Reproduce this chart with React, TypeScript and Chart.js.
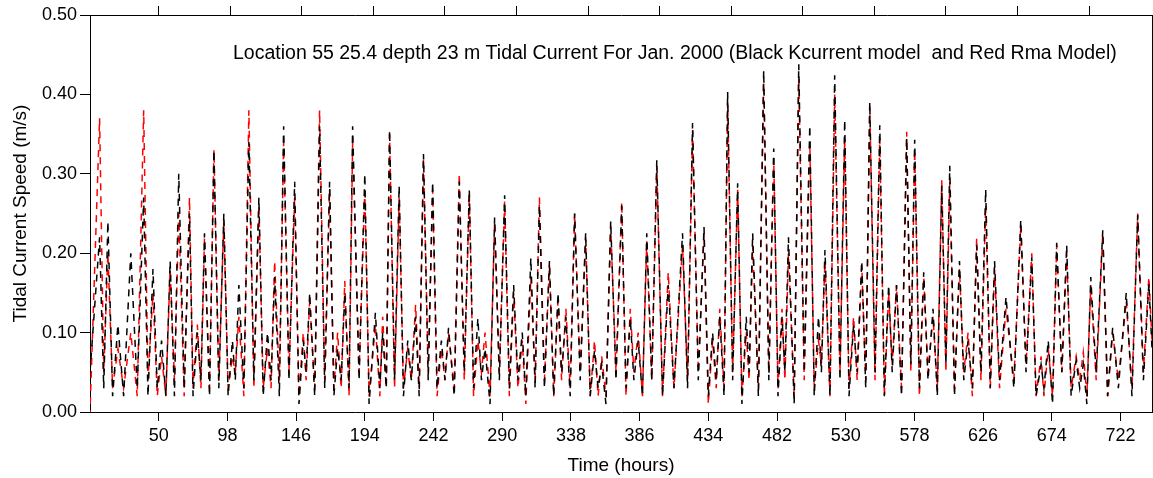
import React, { useEffect, useRef } from "react";
import { Chart, registerables } from "chart.js";

Chart.register(...registerables);

// Turning-point times (hours) of the tidal speed record
const hours = [
  2,
  8.7, 11.6, 14.5, 17.8, 21.5, 25.5, 30.5, 35,
  39.5, 42.5, 46, 49, 52, 55, 58, 61,
  64, 67.8, 71.5, 74, 77, 79.5, 82, 85.5,
  88.6, 92, 95.5, 98.5, 101.5, 103.5, 106, 109.5,
  113, 116.5, 120, 123, 126, 128.5, 131, 134.3,
  137.3, 141, 145, 148, 151, 153, 155.5, 159,
  162.4, 166, 169.4, 172.4, 175, 177.5, 180, 183,
  185.5, 190, 194, 197, 201.4, 204.5, 206.5, 209,
  211.3, 214.8, 218, 221, 224, 226.5, 229.5, 232,
  235, 238.3, 241.4, 244.5, 247.5, 250, 252.5, 256.5,
  260, 263.5, 267, 270, 273, 275.5, 278, 281.5,
  284.7, 288, 291.7, 295, 298, 301, 304, 306.5, 310, 313,
  316, 319.5, 323, 326, 329, 331.5, 334.5, 337.5,
  340.6, 344.5, 348.3, 351.5, 354.5, 357, 359.5, 362.5,
  365.8, 369.5, 373.5, 376.5, 379.5, 382, 385, 388,
  391, 394.5, 398, 402, 406, 410, 416, 419.5,
  423, 427, 431, 434, 437, 439.5, 442, 445,
  447.5, 451, 454.5, 457.5, 460.5, 462.5, 465, 469,
  472.7, 476.3, 479.7, 482.7, 485.5, 487.5, 490, 494,
  497.2, 501, 504.9, 508, 511, 513, 515.5, 519,
  522.3, 526, 529.3, 532.3, 535.5, 538, 541.2, 544,
  546.8, 550.5, 553.8, 557, 560, 562.5, 565.5, 569,
  572.6, 575.5, 578.2, 581.5, 584.5, 587.5, 591, 594,
  597.1, 600, 602.7, 606, 609.5, 612.5, 615.5, 618.5,
  621.5, 624.5, 627.8, 631, 634, 637.5, 642, 647.5,
  652.3, 656, 660, 663, 666.5, 668.5, 671.5, 674.5,
  677.4, 681, 684.4, 687.5, 691, 693.5, 696, 698.5,
  701.2, 705, 709.6, 713, 716.5, 720.5, 726, 730,
  734, 738, 741.8, 744,
];

// Black: Kcurrent model speed (m/s)
const kcurrentSpeed = [
  0.05,
  0.22, 0.03, 0.24, 0.02, 0.11, 0.02, 0.20, 0.03,
  0.27, 0.02, 0.18, 0.03, 0.09, 0.02, 0.19, 0.02,
  0.30, 0.03, 0.25, 0.02, 0.10, 0.04, 0.225, 0.02,
  0.33, 0.03, 0.25, 0.02, 0.09, 0.04, 0.16, 0.03,
  0.34, 0.04, 0.27, 0.02, 0.10, 0.04, 0.17, 0.02,
  0.36, 0.04, 0.29, 0.01, 0.09, 0.05, 0.15, 0.02,
  0.36, 0.03, 0.29, 0.02, 0.08, 0.04, 0.15, 0.03,
  0.36, 0.04, 0.30, 0.01, 0.125, 0.03, 0.10, 0.03,
  0.355, 0.04, 0.285, 0.02, 0.09, 0.04, 0.12, 0.02,
  0.325, 0.04, 0.29, 0.03, 0.09, 0.04, 0.106, 0.02,
  0.29, 0.05, 0.28, 0.03, 0.118, 0.04, 0.08, 0.01,
  0.245, 0.04, 0.273, 0.03, 0.16, 0.04, 0.10, 0.02, 0.194, 0.03,
  0.26, 0.03, 0.19, 0.02, 0.15, 0.05, 0.12, 0.02,
  0.25, 0.04, 0.225, 0.02, 0.078, 0.03, 0.06, 0.01,
  0.24, 0.04, 0.26, 0.03, 0.118, 0.04, 0.09, 0.02,
  0.225, 0.04, 0.317, 0.02, 0.16, 0.03, 0.225, 0.03,
  0.364, 0.04, 0.233, 0.02, 0.10, 0.04, 0.12, 0.02,
  0.403, 0.04, 0.288, 0.01, 0.12, 0.05, 0.225, 0.02,
  0.43, 0.04, 0.332, 0.02, 0.12, 0.05, 0.22, 0.01,
  0.438, 0.05, 0.361, 0.02, 0.12, 0.05, 0.204, 0.02,
  0.424, 0.04, 0.368, 0.02, 0.11, 0.05, 0.19, 0.03,
  0.39, 0.05, 0.361, 0.02, 0.16, 0.05, 0.16, 0.02,
  0.345, 0.06, 0.343, 0.03, 0.176, 0.04, 0.13, 0.02,
  0.285, 0.06, 0.31, 0.02, 0.19, 0.04, 0.09, 0.03,
  0.21, 0.05, 0.28, 0.03, 0.19, 0.04, 0.145, 0.03,
  0.242, 0.05, 0.195, 0.02, 0.06, 0.03, 0.09, 0.01,
  0.213, 0.05, 0.21, 0.02, 0.065, 0.03, 0.06, 0.01,
  0.17, 0.05, 0.229, 0.02, 0.106, 0.03, 0.15, 0.02,
  0.248, 0.04, 0.162, 0.08,
];

// Red: Rma model speed (m/s)
const rmaSpeed = [
  0.0,
  0.37, 0.05, 0.20, 0.03, 0.08, 0.03, 0.10, 0.02,
  0.38, 0.04, 0.15, 0.02, 0.07, 0.02, 0.18, 0.04,
  0.25, 0.02, 0.27, 0.03, 0.11, 0.03, 0.22, 0.03,
  0.33, 0.04, 0.24, 0.03, 0.07, 0.05, 0.12, 0.02,
  0.38, 0.03, 0.26, 0.03, 0.08, 0.03, 0.19, 0.04,
  0.34, 0.05, 0.27, 0.02, 0.10, 0.04, 0.14, 0.03,
  0.38, 0.04, 0.28, 0.03, 0.10, 0.03, 0.165, 0.02,
  0.34, 0.05, 0.28, 0.02, 0.11, 0.02, 0.12, 0.03,
  0.35, 0.03, 0.27, 0.03, 0.08, 0.04, 0.135, 0.03,
  0.32, 0.05, 0.28, 0.02, 0.08, 0.04, 0.10, 0.03,
  0.30, 0.04, 0.275, 0.02, 0.09, 0.05, 0.10, 0.02,
  0.24, 0.05, 0.265, 0.02, 0.15, 0.03, 0.09, 0.01, 0.17, 0.04,
  0.27, 0.04, 0.185, 0.02, 0.14, 0.04, 0.13, 0.03,
  0.25, 0.05, 0.22, 0.02, 0.09, 0.02, 0.07, 0.02,
  0.235, 0.05, 0.265, 0.02, 0.13, 0.05, 0.10, 0.02,
  0.215, 0.04, 0.31, 0.02, 0.176, 0.03, 0.21, 0.04,
  0.355, 0.05, 0.225, 0.01, 0.09, 0.03, 0.13, 0.03,
  0.39, 0.05, 0.28, 0.02, 0.10, 0.04, 0.21, 0.03,
  0.415, 0.05, 0.32, 0.03, 0.13, 0.04, 0.20, 0.02,
  0.42, 0.04, 0.34, 0.03, 0.09, 0.06, 0.19, 0.02,
  0.40, 0.05, 0.345, 0.03, 0.12, 0.04, 0.185, 0.04,
  0.385, 0.04, 0.345, 0.02, 0.15, 0.06, 0.16, 0.03,
  0.353, 0.05, 0.33, 0.02, 0.17, 0.05, 0.12, 0.03,
  0.292, 0.05, 0.29, 0.03, 0.18, 0.05, 0.10, 0.02,
  0.219, 0.04, 0.26, 0.03, 0.18, 0.03, 0.13, 0.04,
  0.235, 0.06, 0.20, 0.02, 0.07, 0.02, 0.08, 0.02,
  0.21, 0.05, 0.20, 0.03, 0.07, 0.04, 0.075, 0.02,
  0.16, 0.04, 0.225, 0.02, 0.10, 0.04, 0.14, 0.03,
  0.25, 0.05, 0.17, 0.09,
];

const bottomTickHours = [50, 98, 146, 194, 242, 290, 338, 386, 434, 482, 530, 578, 626, 674, 722];
const topTickHours = [50, 100, 150, 200, 250, 300, 350, 400, 450, 500, 550, 600, 650, 700];
const speedTicks = [0, 0.1, 0.2, 0.3, 0.4, 0.5];

const chartTitle =
  "Location 55 25.4 depth 23 m Tidal Current For Jan. 2000 (Black Kcurrent model  and Red Rma Model)";
const xTitle = "Time (hours)";
const yTitle = "Tidal Current Speed (m/s)";

const FONT_FAMILY = '"Liberation Sans", Arial, Helvetica, sans-serif';

const framePlugin = {
  id: "frameAndText",
  afterDraw(chart: any) {
    const { ctx, chartArea } = chart;
    ctx.save();
    ctx.strokeStyle = "#000";
    ctx.lineWidth = 1;
    ctx.beginPath();
    ctx.moveTo(chartArea.right + 0.5, chartArea.top);
    ctx.lineTo(chartArea.right + 0.5, chartArea.bottom);
    ctx.stroke();
    ctx.fillStyle = "#000";
    ctx.font = `19.5px ${FONT_FAMILY}`;
    ctx.textAlign = "left";
    ctx.textBaseline = "alphabetic";
    ctx.fillText(chartTitle, chartArea.left + 143, chartArea.top + 44);
    ctx.restore();
  },
};

export default function App() {
  const canvasRef = useRef<HTMLCanvasElement | null>(null);

  useEffect(() => {
    if (!canvasRef.current) return;
    const tickFont = { family: FONT_FAMILY, size: 18 };
    const titleFont = { family: FONT_FAMILY, size: 19 };
    const kData = hours.map((h, i) => ({ x: h, y: kcurrentSpeed[i] }));
    const rData = hours.map((h, i) => ({ x: h, y: rmaSpeed[i] }));
    const chart = new Chart(canvasRef.current, {
      type: "line",
      data: {
        datasets: [
          {
            label: "Kcurrent",
            data: kData,
            borderColor: "#000000",
            borderWidth: 1.5,
            borderDash: [7, 6],
            pointRadius: 0,
            tension: 0,
            fill: false,
          },
          {
            label: "Rma",
            data: rData,
            borderColor: "#ff0000",
            borderWidth: 1.5,
            borderDash: [7, 6],
            borderDashOffset: 5,
            pointRadius: 0,
            tension: 0,
            fill: false,
          },
        ],
      },
      options: {
        animation: false,
        responsive: false,
        devicePixelRatio: 1,
        layout: { padding: { left: 0, right: 1, top: 0, bottom: 0 } },
        plugins: {
          legend: { display: false },
          title: { display: false },
          tooltip: { enabled: false },
        },
        scales: {
          x: {
            type: "linear",
            position: "bottom",
            min: 2,
            max: 744,
            afterBuildTicks: (s: any) => {
              s.ticks = bottomTickHours.map((v) => ({ value: v }));
            },
            afterFit: (s: any) => {
              s.height = 66;
            },
            ticks: {
              font: tickFont,
              color: "#000",
              maxRotation: 0,
              autoSkip: false,
              padding: 4,
              callback: (v: any) => String(v),
            },
            grid: { drawOnChartArea: false, drawTicks: true, tickLength: 9, color: "#000", lineWidth: 1 },
            border: { display: true, color: "#000", width: 1 },
            title: { display: true, text: xTitle, font: titleFont, color: "#000", padding: { top: 0, bottom: 1 } },
          },
          x2: {
            type: "linear",
            position: "top",
            min: 2,
            max: 744,
            afterBuildTicks: (s: any) => {
              s.ticks = topTickHours.map((v) => ({ value: v }));
            },
            afterFit: (s: any) => {
              s.height = 15;
            },
            ticks: { display: false },
            grid: { drawOnChartArea: false, drawTicks: true, tickLength: 9, color: "#000", lineWidth: 1 },
            border: { display: true, color: "#000", width: 1 },
          },
          y: {
            type: "linear",
            position: "left",
            min: 0,
            max: 0.5,
            afterBuildTicks: (s: any) => {
              s.ticks = speedTicks.map((v) => ({ value: v }));
            },
            afterFit: (s: any) => {
              s.width = 90;
            },
            ticks: {
              font: tickFont,
              color: "#000",
              padding: 3,
              callback: (v: any) => Number(v).toFixed(2),
            },
            grid: { drawOnChartArea: false, drawTicks: true, tickLength: 10, color: "#000", lineWidth: 1 },
            border: { display: true, color: "#000", width: 1 },
            title: { display: true, text: yTitle, font: titleFont, color: "#000", padding: { top: 9, bottom: 0 } },
          },
        },
      },
      plugins: [framePlugin],
    });
    return () => chart.destroy();
  }, []);

  return (
    <div style={{ position: "fixed", left: 0, top: 0, width: 1153, height: 478, background: "#fff" }}>
      <canvas ref={canvasRef} width={1153} height={478} style={{ display: "block" }} />
    </div>
  );
}
